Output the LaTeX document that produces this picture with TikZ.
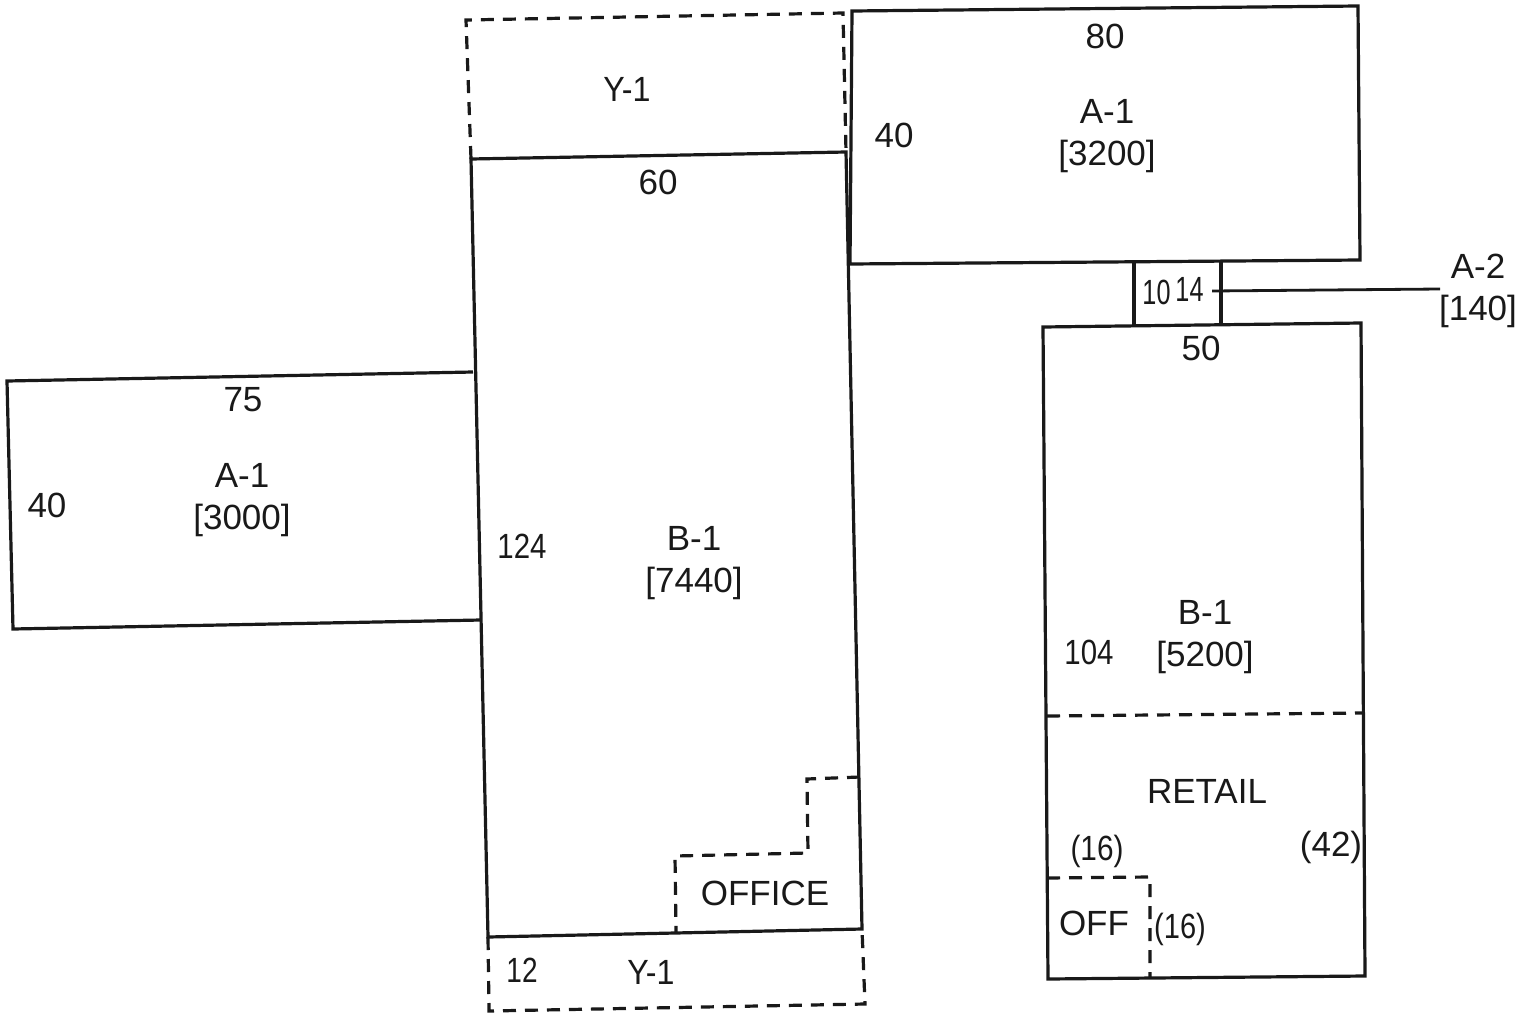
\documentclass[tikz,border=0pt]{standalone}
\usepackage{fontspec}
\setmainfont{Liberation Sans}
\tikzset{
  wall/.style={draw=black!90,line width=3.2pt,line join=miter},
  dash wall/.style={draw=black!90,line width=3.2pt,dash pattern=on 13pt off 9pt},
  lead/.style={draw=black!90,line width=2.8pt},
  lbl/.style={font=\fontsize{35}{42}\selectfont,text=black!90,inner sep=0pt,align=center},
  narrow/.style={lbl,xscale=#1},
}
\begin{document}
\begin{tikzpicture}[x=1pt,y=-1pt]
\useasboundingbox[fill=white] (0,0) rectangle (1532,1015);
% corner coordinates
\coordinate (ml1) at (471,159); \coordinate (mr1) at (846,152);
\coordinate (ml2) at (488,937); \coordinate (mr2) at (862,929);
\coordinate (wa) at (473,372);  \coordinate (wb) at (481,620);
\coordinate (wc) at (7,381);    \coordinate (wd) at (13,629);
\coordinate (na) at (852,11);   \coordinate (nb) at (1358,6);
\coordinate (nc) at (1360,260); \coordinate (nd) at (850,264);
\coordinate (ra) at (1043,327); \coordinate (rb) at (1361,323);
\coordinate (rc) at (1365,976); \coordinate (rd) at (1048,979);
\coordinate (ca) at (1134,262); \coordinate (cb) at (1221,261);
\coordinate (cc) at (1134,326); \coordinate (cd) at (1221,324);
% solid outlines
\draw[wall] (ml1) -- (mr1) -- (mr2) -- (ml2) -- cycle;
\draw[wall] (wa) -- (wc) -- (wd) -- (wb);
\draw[wall] (na) -- (nb) -- (nc) -- (nd) -- cycle;
\draw[wall] (ra) -- (rb) -- (rc) -- (rd) -- cycle;
\draw[wall] (ca) -- (cc);
\draw[wall] (cb) -- (cd);
% dashed outlines
\coordinate (ya) at (466,20);  \coordinate (yb) at (843,13);
\draw[dash wall] (ml1) -- (ya) -- (yb) -- (mr1);
\coordinate (yc) at (489,1011); \coordinate (yd) at (865,1004);
\draw[dash wall] (ml2) -- (yc) -- (yd) -- (mr2);
\coordinate (oa) at (860,777); \coordinate (ob) at (807,779);
\coordinate (oc) at (808,853); \coordinate (od) at (675,856);
\coordinate (oe) at (676,932);
\draw[dash wall] (oa) -- (ob) -- (oc) -- (od) -- (oe);
\coordinate (ra2) at (1047,716); \coordinate (rb2) at (1362,713);
\draw[dash wall] (ra2) -- (rb2);
\coordinate (ofa) at (1047,878); \coordinate (ofb) at (1150,877);
\coordinate (ofc) at (1150,978);
\draw[dash wall] (ofa) -- (ofb) -- (ofc);
% leader
\coordinate (la) at (1212,291); \coordinate (lb) at (1440,289);
\draw[lead] (la) -- (lb);
% labels
\node[narrow=.92] (y1a) at (627,89) {Y-1};
\node[lbl] (n60) at (658,182) {60};
\node[lbl] (n80) at (1105,36) {80};
\node[lbl] (a1n) at (1107,136.5) {A-1\\{[3200]}};
\node[lbl] (n40a) at (894,135) {40};
\node[narrow=.72] (n1014a) at (1156.5,292) {10};
\node[narrow=.72] (n1014b) at (1189.5,289) {14};
\node[lbl] (a2) at (1478,290.5) {A-2\\{[140]}};
\node[lbl] (n50) at (1201,348) {50};
\node[lbl] (n75) at (243,400) {75};
\node[lbl] (a1w) at (242,500.5) {A-1\\{[3000]}};
\node[lbl] (n40b) at (47,505) {40};
\node[narrow=.84] (n124) at (522,546) {124};
\node[lbl] (b1m) at (694,563.5) {B-1\\{[7440]}};
\node[lbl] (b1r) at (1205,637.5) {B-1\\{[5200]}};
\node[narrow=.84] (n104) at (1089,652) {104};
\node[lbl] (retail) at (1207,791) {RETAIL};
\node[narrow=.85] (n16a) at (1097,851.5) {(16)};
\node[lbl] (n42) at (1331,847) {(42)};
\node[lbl] (off) at (1094,923) {OFF};
\node[narrow=.83] (n16b) at (1180,929.5) {(16)};
\node[lbl] (office) at (765,893) {OFFICE};
\node[narrow=.8] (n12) at (522,970) {12};
\node[narrow=.92] (y1b) at (651,972) {Y-1};
\end{tikzpicture}
\end{document}
